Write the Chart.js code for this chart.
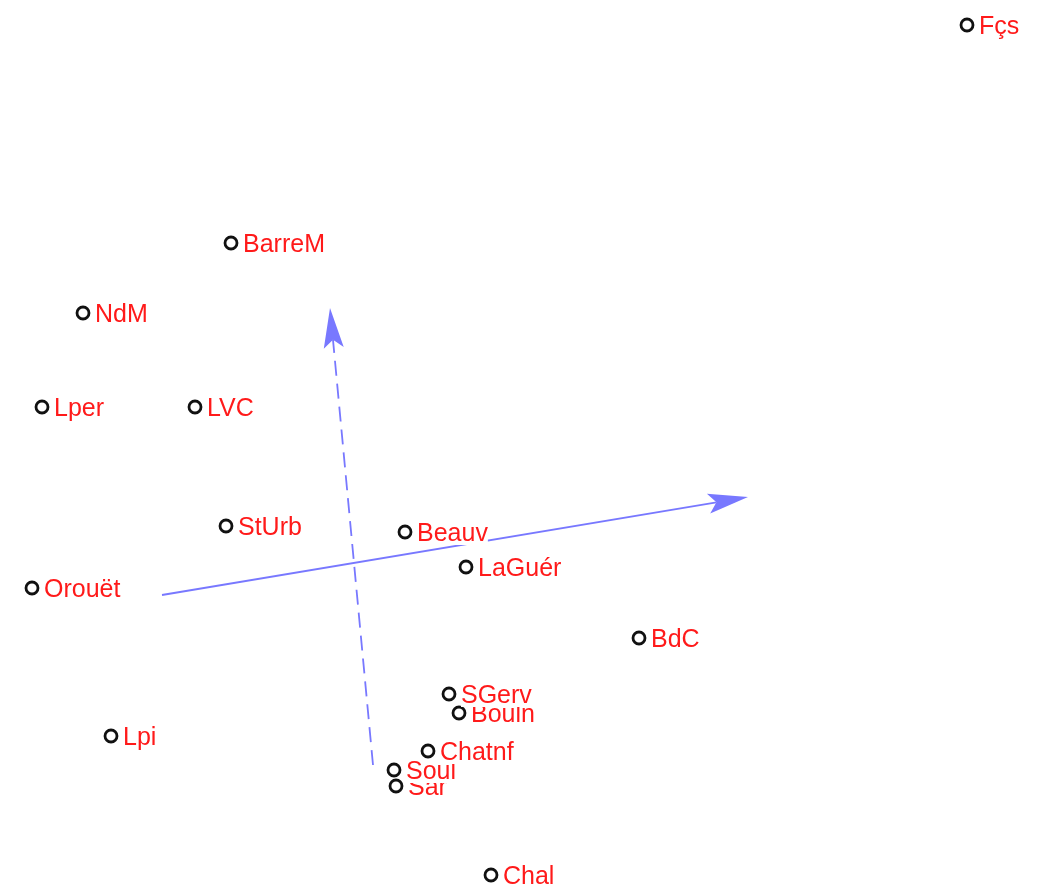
<!DOCTYPE html>
<html lang="fr">
<head>
    <meta charset="UTF-8" />
    <title>Plan factoriel des sites</title>
    <script src="https://cdn.jsdelivr.net/npm/chart.js"></script>
    <style>
        body { margin: 0; background: #fff; }
        canvas { display: block; }
    </style>
</head>
<body>
    <canvas id="myChart" width="1043" height="888"></canvas>

    <script>
        // Sites (coordonnées sur le plan, x vers la droite, y vers le bas)
        // l'ordre compte : une étiquette tracée plus tard masque celle d'avant
        const sites = ['Fçs', 'BarreM', 'NdM', 'Lper', 'LVC', 'StUrb', 'Beauv', 'LaGuér', 'Orouët',
                       'BdC', 'Bouln', 'SGerv', 'Lpi', 'Sar', 'Soul', 'Chatnf', 'Chal'];
        const coordX = [967, 231, 83, 42, 195, 226, 405, 466, 32, 639, 459, 449, 111, 396, 394, 428, 491];
        const coordY = [25, 243, 313, 407, 407, 526, 532, 567, 588, 638, 713, 694, 736, 786, 770, 751, 875];

        // Les deux axes (flèches) : départ et arrivée
        const axe1 = { x: [162, 748], y: [595, 497], pointille: false };
        const axe2 = { x: [373, 330], y: [765, 308], pointille: true };

        const points = sites.map((s, i) => ({ x: coordX[i], y: coordY[i] }));

        // Étiquettes rouges à droite de chaque point, sur fond blanc
        const etiquettes = {
            id: 'etiquettes',
            afterDatasetsDraw(chart) {
                const c = chart.ctx;
                const meta = chart.getDatasetMeta(0);
                c.save();
                c.font = '25px "Liberation Sans", Arial, sans-serif';
                c.textBaseline = 'alphabetic';
                meta.data.forEach((el, i) => {
                    const tx = el.x + 12, ty = el.y + 9;
                    const w = c.measureText(sites[i]).width;
                    c.fillStyle = '#fff';
                    c.fillRect(tx, ty - 19, w, 23);
                    c.fillStyle = '#ff1a1a';
                    c.fillText(sites[i], tx, ty);
                });
                c.restore();
            }
        };

        // Flèches bleues
        const fleches = {
            id: 'fleches',
            afterDatasetsDraw(chart) {
                const c = chart.ctx;
                const sx = chart.scales.x, sy = chart.scales.y;
                [axe1, axe2].forEach(a => {
                    const x0 = sx.getPixelForValue(a.x[0]), y0 = sy.getPixelForValue(a.y[0]);
                    const x1 = sx.getPixelForValue(a.x[1]), y1 = sy.getPixelForValue(a.y[1]);
                    const ang = Math.atan2(y1 - y0, x1 - x0);
                    const long = 40, larg = 10, encoche = 8;
                    const ux = Math.cos(ang), uy = Math.sin(ang);
                    const bx = x1 - long * ux, by = y1 - long * uy;
                    c.save();
                    c.strokeStyle = '#7878ff';
                    c.fillStyle = '#7878ff';
                    c.lineWidth = 1.8;
                    c.setLineDash(a.pointille ? [15, 8] : []);
                    c.beginPath();
                    c.moveTo(x0, y0);
                    c.lineTo(bx + encoche * ux, by + encoche * uy);
                    c.stroke();
                    c.setLineDash([]);
                    // pointe avec encoche
                    const nx = -uy, ny = ux;
                    c.beginPath();
                    c.moveTo(x1, y1);
                    c.lineTo(bx + nx * larg, by + ny * larg);
                    c.lineTo(bx + encoche * ux, by + encoche * uy);
                    c.lineTo(bx - nx * larg, by - ny * larg);
                    c.closePath();
                    c.fill();
                    c.restore();
                });
            }
        };

        const ctx = document.getElementById('myChart').getContext('2d');

        let chart = new Chart(ctx, {
            type: 'scatter',
            data: {
                datasets: [{
                    data: points,
                    pointRadius: 6,
                    pointHoverRadius: 6,
                    pointBorderWidth: 2.8,
                    pointBorderColor: '#111',
                    pointBackgroundColor: 'rgba(0,0,0,0)'
                }]
            },
            options: {
                responsive: false,
                animation: false,
                layout: { padding: 0, autoPadding: false },
                plugins: {
                    legend: { display: false },
                    tooltip: { enabled: false }
                },
                scales: {
                    x: { type: 'linear', min: 0, max: 1043, display: false },
                    y: { type: 'linear', min: 0, max: 888, reverse: true, display: false }
                }
            },
            plugins: [fleches, etiquettes]
        });
    </script>
</body>
</html>
